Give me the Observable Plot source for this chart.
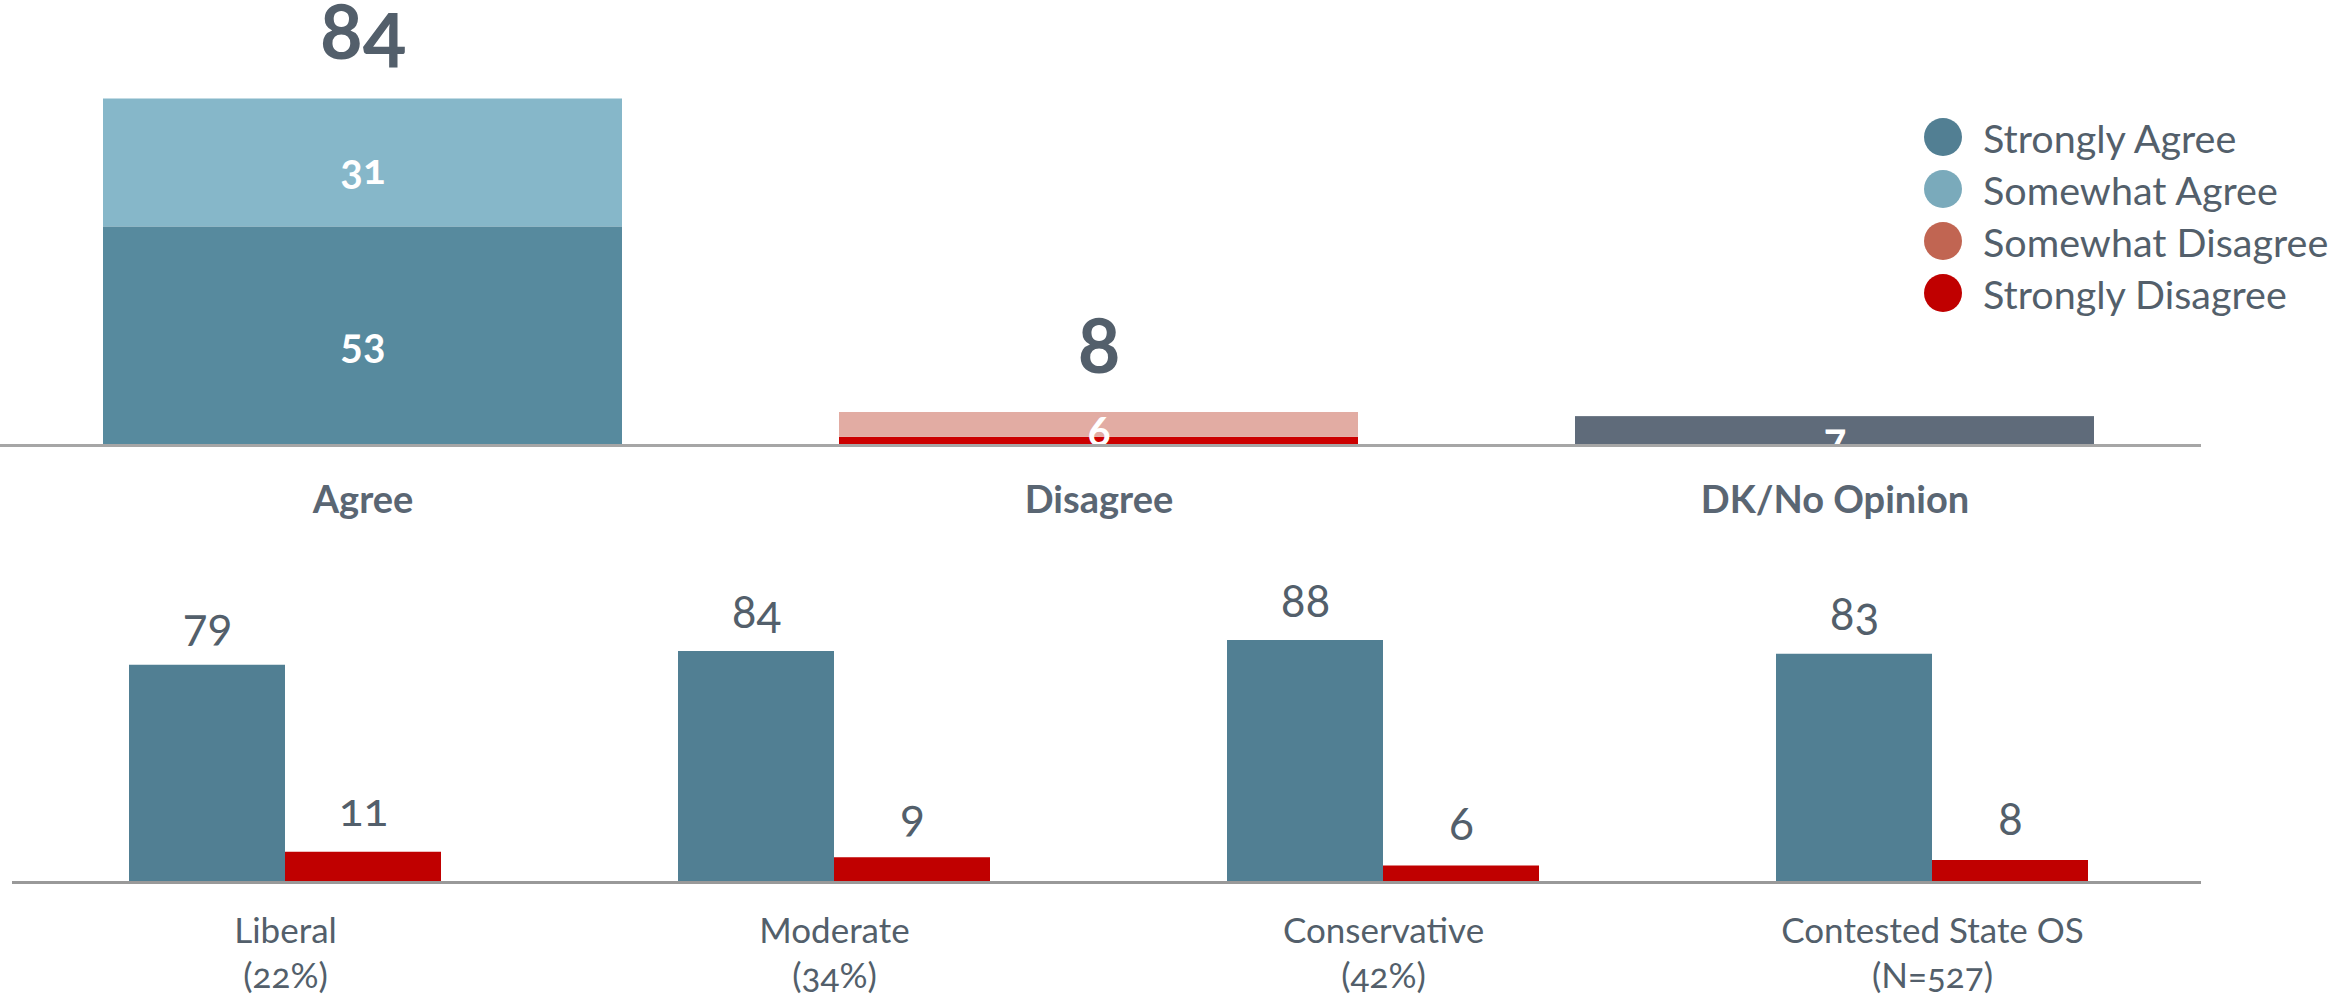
<!DOCTYPE html>
<html><head><meta charset="utf-8">
<script src="https://cdn.jsdelivr.net/npm/d3@7"></script>
<script src="https://cdn.jsdelivr.net/npm/@observablehq/plot@0.6"></script>
<style>
body{margin:0;background:#fff;font-family:Lato,sans-serif;}
#wrap{position:relative;width:2340px;height:994px;overflow:hidden}
#legend{position:absolute;left:1924px;top:111px}
.row{display:flex;align-items:center;height:52px;font-size:39.5px;color:#535f6b;white-space:nowrap}
.sw{width:38px;height:38px;border-radius:50%;margin-right:21px;flex:none}
svg{display:block}
</style></head><body><div id="wrap"><div id="legend"></div></div>
<script>
// ---- Top panel data ----
const topCategories = ["Agree", "Disagree", "DK/No Opinion"];
const segmentNames = ["Strongly Agree", "Somewhat Agree", "Strongly Disagree", "Somewhat Disagree", "DK/No Opinion"];
const segmentCategory = ["Agree", "Agree", "Disagree", "Disagree", "DK/No Opinion"];
const segmentValues = [53, 31, 2, 6, 7];
const totalCategories = ["Agree", "Disagree"];
const totalValues = [84, 8];
const legendNames = ["Strongly Agree", "Somewhat Agree", "Somewhat Disagree", "Strongly Disagree"];

// ---- Bottom panel data ----
const groups = ["Liberal", "Moderate", "Conservative", "Contested State OS"];
const groupNotes = ["(22%)", "(34%)", "(42%)", "(N=527)"];
const agreeValues = [79, 84, 88, 83];
const disagreeValues = [11, 9, 6, 8];

// ---- Colours ----
const segmentColors = ["#578a9e", "#86b7c9", "#cc0000", "#e2aca3", "#5f6b7a"];
const legendColors = ["#527f93", "#7aaabb", "#c16552", "#c00000"];
const textColor = "#535f6b";

const topData = segmentNames.map((s, i) => ({segment: s, category: segmentCategory[i], value: segmentValues[i]}));
const totals = totalCategories.map((c, i) => ({category: c, value: totalValues[i]}));

const baseStyle = {fontFamily: "Lato, sans-serif", color: textColor, background: "transparent", overflow: "visible", fontVariantNumeric: "oldstyle-nums"};

const topPlot = Plot.plot({
  width: 2340, height: 530,
  marginLeft: 0, marginRight: 139, marginTop: 98.5, marginBottom: 85,
  style: baseStyle,
  x: {domain: topCategories, range: [0, 2197], paddingInner: 0.295, paddingOuter: 0.14, axis: null},
  y: {domain: [0, 84], axis: null},
  color: {domain: segmentNames, range: segmentColors},
  marks: [
    Plot.barY(topData, {x: "category", y: "value", fill: "segment"}),
    Plot.text(topData, Plot.stackY({x: "category", y: "value", text: d => d.value >= 5 ? String(d.value) : "", fill: "white", fontSize: 42, fontWeight: "bold", dy: 8})),
    Plot.ruleY([0], {stroke: "#a6a6a6", strokeWidth: 3}),
    Plot.text(totals, {x: "category", y: "value", text: d => String(d.value), lineAnchor: "bottom", dy: -40, fontSize: 80, fontWeight: "bold", fill: textColor}),
    Plot.text(topCategories, {x: d => d, frameAnchor: "bottom", lineAnchor: "top", dy: 41, fontSize: 38, fontWeight: "bold", fill: "#5a6673"})
  ]
});

const agreeData = groups.map((g, i) => ({group: g, value: agreeValues[i]}));
const disagreeData = groups.map((g, i) => ({group: g, value: disagreeValues[i]}));

const bottomPlot = Plot.plot({
  width: 2340, height: 464,
  marginLeft: 12, marginRight: 139, marginTop: 77, marginBottom: 112,
  style: baseStyle,
  x: {domain: groups, range: [10, 2206], paddingInner: 0.4317, paddingOuter: 0.2158, axis: null},
  y: {domain: [0, 100], axis: null},
  marks: [
    Plot.barY(agreeData, {x: "group", y: "value", fill: "#517f93", insetRight: 156}),
    Plot.barY(disagreeData, {x: "group", y: "value", fill: "#c00000", insetLeft: 156}),
    Plot.ruleY([0], {stroke: "#999999", strokeWidth: 3}),
    Plot.text(agreeData, {x: "group", y: "value", text: d => String(d.value), dx: -78, lineAnchor: "bottom", dy: -24, fontSize: 46, fill: textColor}),
    Plot.text(disagreeData, {x: "group", y: "value", text: d => String(d.value), dx: 78, lineAnchor: "bottom", dy: -26, fontSize: 46, fill: textColor}),
    Plot.text(groups, {x: d => d, text: (d, i) => d + "\n" + groupNotes[i], frameAnchor: "bottom", lineAnchor: "top", dy: 28, lineHeight: 1.3, fontSize: 35, fill: textColor})
  ]
});

const wrap = document.getElementById("wrap");
wrap.insertBefore(topPlot, wrap.firstChild);
wrap.insertBefore(bottomPlot, document.getElementById("legend"));

const legend = document.getElementById("legend");
legendNames.forEach((n, i) => {
  const row = document.createElement("div");
  row.className = "row";
  const sw = document.createElement("span");
  sw.className = "sw";
  sw.style.background = legendColors[i];
  const label = document.createElement("span");
  label.textContent = n;
  row.appendChild(sw);
  row.appendChild(label);
  legend.appendChild(row);
});
</script>
</body></html>
